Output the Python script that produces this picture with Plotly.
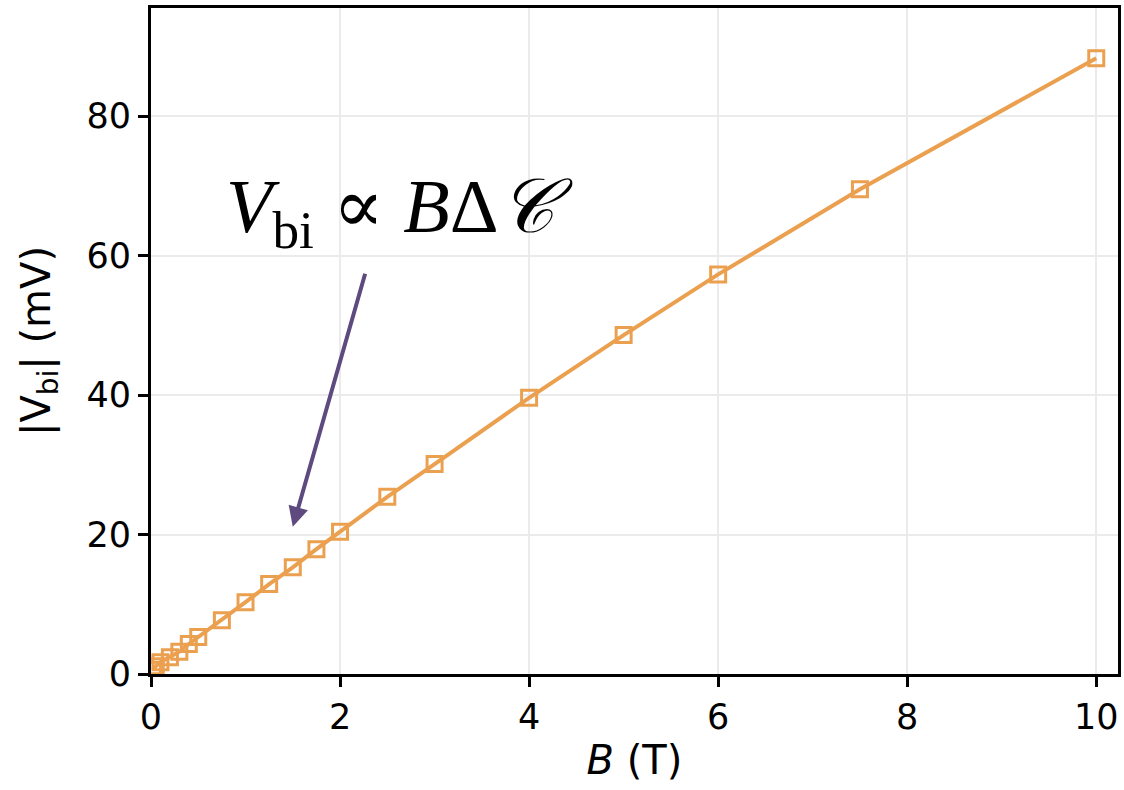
import plotly.graph_objects as go

B_T = [0.02, 0.05, 0.1, 0.2, 0.3, 0.4, 0.5, 0.75, 1.0, 1.25, 1.5, 1.75, 2.0, 2.5, 3.0, 4.0, 5.0, 6.0, 7.5, 10.0]
V_mV = [0.6, 1.1, 1.7, 2.4, 3.2, 4.3, 5.3, 7.7, 10.3, 12.9, 15.3, 17.9, 20.4, 25.4, 30.1, 39.6, 48.6, 57.3, 69.5, 88.3]

x_ticks = [0, 2, 4, 6, 8, 10]
y_ticks = [0, 20, 40, 60, 80]

orange = "#EBA050"
purple = "#5E4A7E"

fig = go.Figure()
fig.add_trace(go.Scatter(
    x=B_T, y=V_mV, mode="lines+markers",
    line=dict(color=orange, width=4),
    marker=dict(symbol="square-open", size=15, color=orange, line=dict(width=3, color=orange)),
    showlegend=False,
))

fig.add_annotation(
    x=1.50, y=21.1, ax=2.27, ay=57.6,
    xref="x", yref="y", axref="x", ayref="y",
    showarrow=True, arrowhead=2, arrowsize=1.0, arrowwidth=4, arrowcolor=purple, text="",
)
fig.add_annotation(
    x=2.63, y=66.5, xref="x", yref="y", showarrow=False,
    text="<i>V</i><sub>bi</sub> <span style=\"font-family:DejaVu Serif\">∝</span> <i>B</i>Δ<i>𝒞</i>",
    font=dict(family="Liberation Serif, DejaVu Serif, serif", size=76, color="black"),
    xanchor="center", yanchor="middle",
)

axis_common = dict(
    showline=True, linecolor="black", linewidth=3, mirror=True,
    ticks="outside", ticklen=10, tickwidth=2.5, tickcolor="black",
    showgrid=True, gridcolor="#EBEBEB", gridwidth=1.5,
    zeroline=False,
    tickfont=dict(family="DejaVu Sans", size=35, color="black"),
)

fig.update_xaxes(range=[0, 10.23], tickvals=x_ticks,
                 title=dict(text="<i>B</i> (T)", font=dict(family="DejaVu Sans", size=40, color="black"), standoff=10),
                 **axis_common)
fig.update_yaxes(range=[0, 95.5], tickvals=y_ticks,
                 title=dict(text="|V<sub>bi</sub>| (mV)", font=dict(family="DejaVu Sans", size=40, color="black"), standoff=24),
                 **axis_common)

fig.update_layout(
    width=1124, height=790,
    margin=dict(l=151, r=3, t=8, b=116),
    plot_bgcolor="white", paper_bgcolor="white",
)

fig.write_html("out.html", config={"displayModeBar": False},
               post_script="document.body.style.margin='0';document.body.style.overflow='hidden';")
